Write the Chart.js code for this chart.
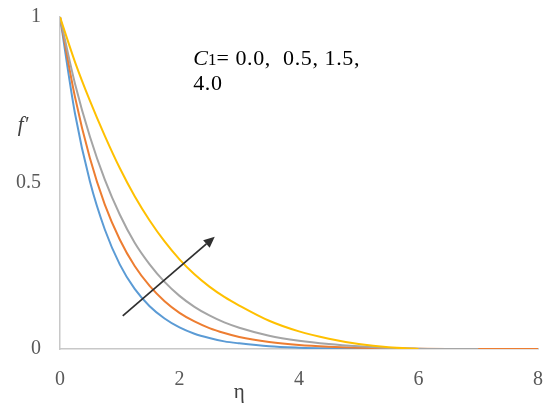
<!DOCTYPE html>
<html><head><meta charset="utf-8">
<script src="https://cdn.jsdelivr.net/npm/chart.js@4.4.0/dist/chart.umd.min.js"></script>
<style>html,body{margin:0;padding:0;background:#fff;}#wrap{width:550px;height:412px;}</style>
</head><body><div id="wrap"><canvas id="c" width="550" height="412"></canvas></div>
<script>
// eta values (x axis)
const eta = [0,0.25,0.5,0.75,1,1.25,1.5,1.75,2,2.25,2.5,2.75,3,3.5,4,4.5,5,5.5,6,6.5,7,7.5,8];
// f' for C1 = 0.0, 0.5, 1.5, 4.0
const fC1_00 = [1,0.71,0.505,0.36,0.255,0.181,0.129,0.092,0.065,0.046,0.033,0.023,0.017,0.008,0.004,0.002,0.001,0,0,0,0,0,0];
const fC1_05 = [1,0.76,0.575,0.435,0.33,0.25,0.19,0.144,0.109,0.083,0.063,0.048,0.036,0.021,0.012,0.007,0.004,0.002,0.0005,0,0,0,0];
const fC1_15 = [1,0.8,0.64,0.51,0.405,0.32,0.255,0.202,0.16,0.127,0.101,0.08,0.064,0.04,0.025,0.015,0.008,0.003,0.001,0,0,null,null];
const fC1_40 = [1,0.865,0.748,0.642,0.545,0.46,0.387,0.324,0.27,0.225,0.188,0.157,0.131,0.085,0.053,0.031,0.015,0.005,0,null,null,null,null];
const seriesNames = ['C1 = 0.0','C1 = 0.5','C1 = 1.5','C1 = 4.0'];
const seriesColors = ['#5B9BD5','#ED7D31','#A5A5A5','#FFC000'];
const xTicks = [0,2,4,6,8];
const yTicks = [0,0.5,1];
// annotation arrow (data coordinates) and note position
const arrowFrom = [1.05, 0.10];
const arrowTo = [2.59, 0.338];
const noteAt = [2.23, 0.855];

const allSeries = [fC1_00, fC1_05, fC1_15, fC1_40];
const datasets = allSeries.map((vals, i) => ({
  label: seriesNames[i],
  data: eta.map((e, j) => ({x: e, y: vals[j]})),
  borderColor: seriesColors[i],
  backgroundColor: seriesColors[i],
  borderWidth: 2,
  pointRadius: 0,
  cubicInterpolationMode: 'monotone',
  spanGaps: false,
  order: 4 - i
}));

const tickFont = {family: '"Liberation Serif", serif', size: 20};

const decor = {
  id: 'decor',
  afterDatasetsDraw(chart) {
    const {ctx, scales: {x, y}, chartArea: ca} = chart;
    ctx.save();
    // arrow
    const x1 = x.getPixelForValue(arrowFrom[0]), y1 = y.getPixelForValue(arrowFrom[1]);
    const x2 = x.getPixelForValue(arrowTo[0]), y2 = y.getPixelForValue(arrowTo[1]);
    const a = Math.atan2(y2 - y1, x2 - x1), hl = 11, hw = 5;
    const bx = x2 - hl * Math.cos(a), by = y2 - hl * Math.sin(a);
    ctx.strokeStyle = '#303030'; ctx.fillStyle = '#303030'; ctx.lineWidth = 1.75;
    ctx.beginPath(); ctx.moveTo(x1, y1); ctx.lineTo(bx, by); ctx.stroke();
    ctx.beginPath(); ctx.moveTo(x2, y2);
    ctx.lineTo(bx + hw * Math.sin(a), by - hw * Math.cos(a));
    ctx.lineTo(bx - hw * Math.sin(a), by + hw * Math.cos(a));
    ctx.closePath(); ctx.fill();
    // note text
    const x0 = x.getPixelForValue(noteAt[0]);
    let nx = x0;
    const ny = y.getPixelForValue(noteAt[1]);
    ctx.fillStyle = '#000';
    ctx.textBaseline = 'alphabetic'; ctx.textAlign = 'left';
    ctx.font = 'italic 22px "Liberation Serif", serif';
    ctx.fillText('C', nx, ny); nx += ctx.measureText('C').width;
    ctx.font = '17px "Liberation Serif", serif';
    ctx.fillText('1', nx, ny); nx += ctx.measureText('1').width;
    ctx.font = '22px "Liberation Serif", serif';
    if ('letterSpacing' in ctx) ctx.letterSpacing = '0.6px';
    ctx.fillText('= 0.0,  0.5, 1.5,', nx, ny);
    ctx.fillText('4.0', x0, ny + 25);
    if ('letterSpacing' in ctx) ctx.letterSpacing = '0px';
    // axis labels
    ctx.fillStyle = '#404040';
    ctx.font = 'italic 21px "Liberation Serif", serif';
    ctx.textAlign = 'center'; ctx.textBaseline = 'alphabetic';
    ctx.fillText("f'", ca.left - 37, y.getPixelForValue(0.675) + 6);
    ctx.font = '21px "Liberation Serif", serif';
    ctx.fillText('\u03B7', x.getPixelForValue(3.0), ca.bottom + 49);
    ctx.restore();
  }
};

new Chart(document.getElementById('c'), {
  type: 'line',
  data: {datasets},
  options: {
    responsive: false,
    animation: false,
    layout: {padding: {top: 17, right: 12, bottom: 0, left: 0}},
    plugins: {legend: {display: false}, tooltip: {enabled: false}},
    scales: {
      x: {
        type: 'linear', min: 0, max: 8,
        afterBuildTicks: s => { s.ticks = xTicks.map(v => ({value: v})); },
        afterFit: s => { s.height = 63; s.paddingLeft = 0; s.paddingRight = 0; },
        grid: {display: false, drawTicks: false},
        border: {display: true, color: '#C8C8C8', width: 1.5},
        ticks: {font: tickFont, color: '#595959', padding: 19, maxRotation: 0,
                callback: v => String(v)}
      },
      y: {
        type: 'linear', min: 0, max: 1,
        afterBuildTicks: s => { s.ticks = yTicks.map(v => ({value: v})); },
        afterFit: s => { s.width = 60; s.paddingTop = 0; s.paddingBottom = 0; },
        grid: {display: false, drawTicks: false},
        border: {display: true, color: '#C8C8C8', width: 1.5},
        ticks: {font: tickFont, color: '#595959', padding: 19,
                callback: v => String(v)}
      }
    }
  },
  plugins: [decor]
});
</script>
</body></html>
